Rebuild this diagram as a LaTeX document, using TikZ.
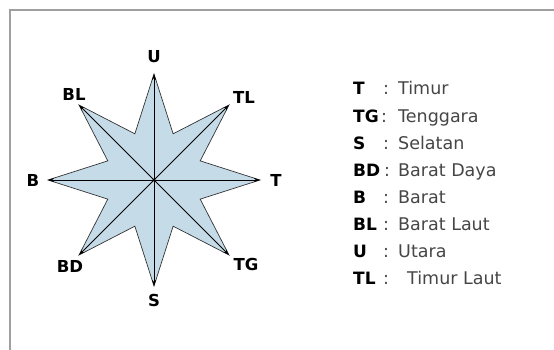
\documentclass[tikz,border=0pt]{standalone}
\usepackage{fontspec}
\setmainfont{DejaVu Sans}
\usetikzlibrary{arrows.meta}
\definecolor{starfill}{RGB}{197,220,232}
\definecolor{txtgray}{RGB}{70,70,70}
\definecolor{framegray}{RGB}{160,160,160}
\begin{document}
\begin{tikzpicture}[x=1pt,y=-1pt,
  dirlabel/.style={font=\fontsize{16.5}{17}\selectfont\bfseries, inner sep=0pt},
  abbr/.style={font=\fontsize{17}{18}\selectfont\bfseries, anchor=base west, inner sep=0pt},
  colon/.style={font=\fontsize{17.5}{18}\selectfont, text=txtgray, anchor=base, inner sep=0pt},
  meaning/.style={font=\fontsize{17.5}{18}\selectfont, text=txtgray, anchor=base west, inner sep=0pt},
  ray/.style={line width=0.8pt, -{Stealth[length=6pt,width=4pt]}},
  starshape/.style={fill=starfill, draw=black!80, line width=0.7pt, line join=miter}]
\useasboundingbox (0,0) rectangle (554,350);
\fill[white] (0,0) rectangle (554,350);
% frame
\draw[framegray, line width=2pt] (10,350) -- (10,10) -- (554,10);
% star
\coordinate (c) at (154,180);
\def\Ro{106}\def\Ri{50}
\foreach \n/\a in {tU/90,tTL/45,tT/0,tTG/-45,tS/-90,tBD/-135,tB/180,tBL/135}{
  \coordinate (\n) at ({154+\Ro*cos(\a)},{180-\Ro*sin(\a)});
}
\foreach \k in {0,...,7}{
  \coordinate (i\k) at ({154+\Ri*cos(67.5-45*\k)},{180-\Ri*sin(67.5-45*\k)});
}
\filldraw[starshape] (tU) -- (i0) -- (tTL) -- (i1) -- (tT) -- (i2) -- (tTG) -- (i3) -- (tS) -- (i4) -- (tBD) -- (i5) -- (tB) -- (i6) -- (tBL) -- (i7) -- cycle;
\foreach \n in {tU,tTL,tT,tTG,tS,tBD,tB,tBL}{
  \draw[ray] (c) -- (\n);
}
\fill (c) circle (1.6);
% direction labels
\node[dirlabel] (lU) at (154,57) {U};
\node[dirlabel] (lS) at (154,300) {S};
\node[dirlabel] (lB) at (33,180) {B};
\node[dirlabel] (lT) at (276,180) {T};
\node[dirlabel] (lBL) at (74,94) {BL};
\node[dirlabel] (lTL) at (244,97) {TL};
\node[dirlabel] (lBD) at (70,266) {BD};
\node[dirlabel] (lTG) at (246,264) {TG};
% legend
\foreach \i/\ab/\tx/\xx/\cx in {0/T/Timur/398/386,1/TG/Tenggara/398/384,2/S/Selatan/398/386,3/BD/Barat Daya/398/387,4/B/Barat/398/386,5/BL/Barat Laut/398/386,6/U/Utara/398/386,7/TL/Timur Laut/407/386}{
  \node[abbr] (a\i) at (353,{95+27.1*\i}) {\ab};
  \node[colon] (k\i) at (\cx,{95+27.1*\i}) {:};
  \node[meaning] (m\i) at (\xx,{95+27.1*\i}) {\tx};
}
\end{tikzpicture}
\end{document}
